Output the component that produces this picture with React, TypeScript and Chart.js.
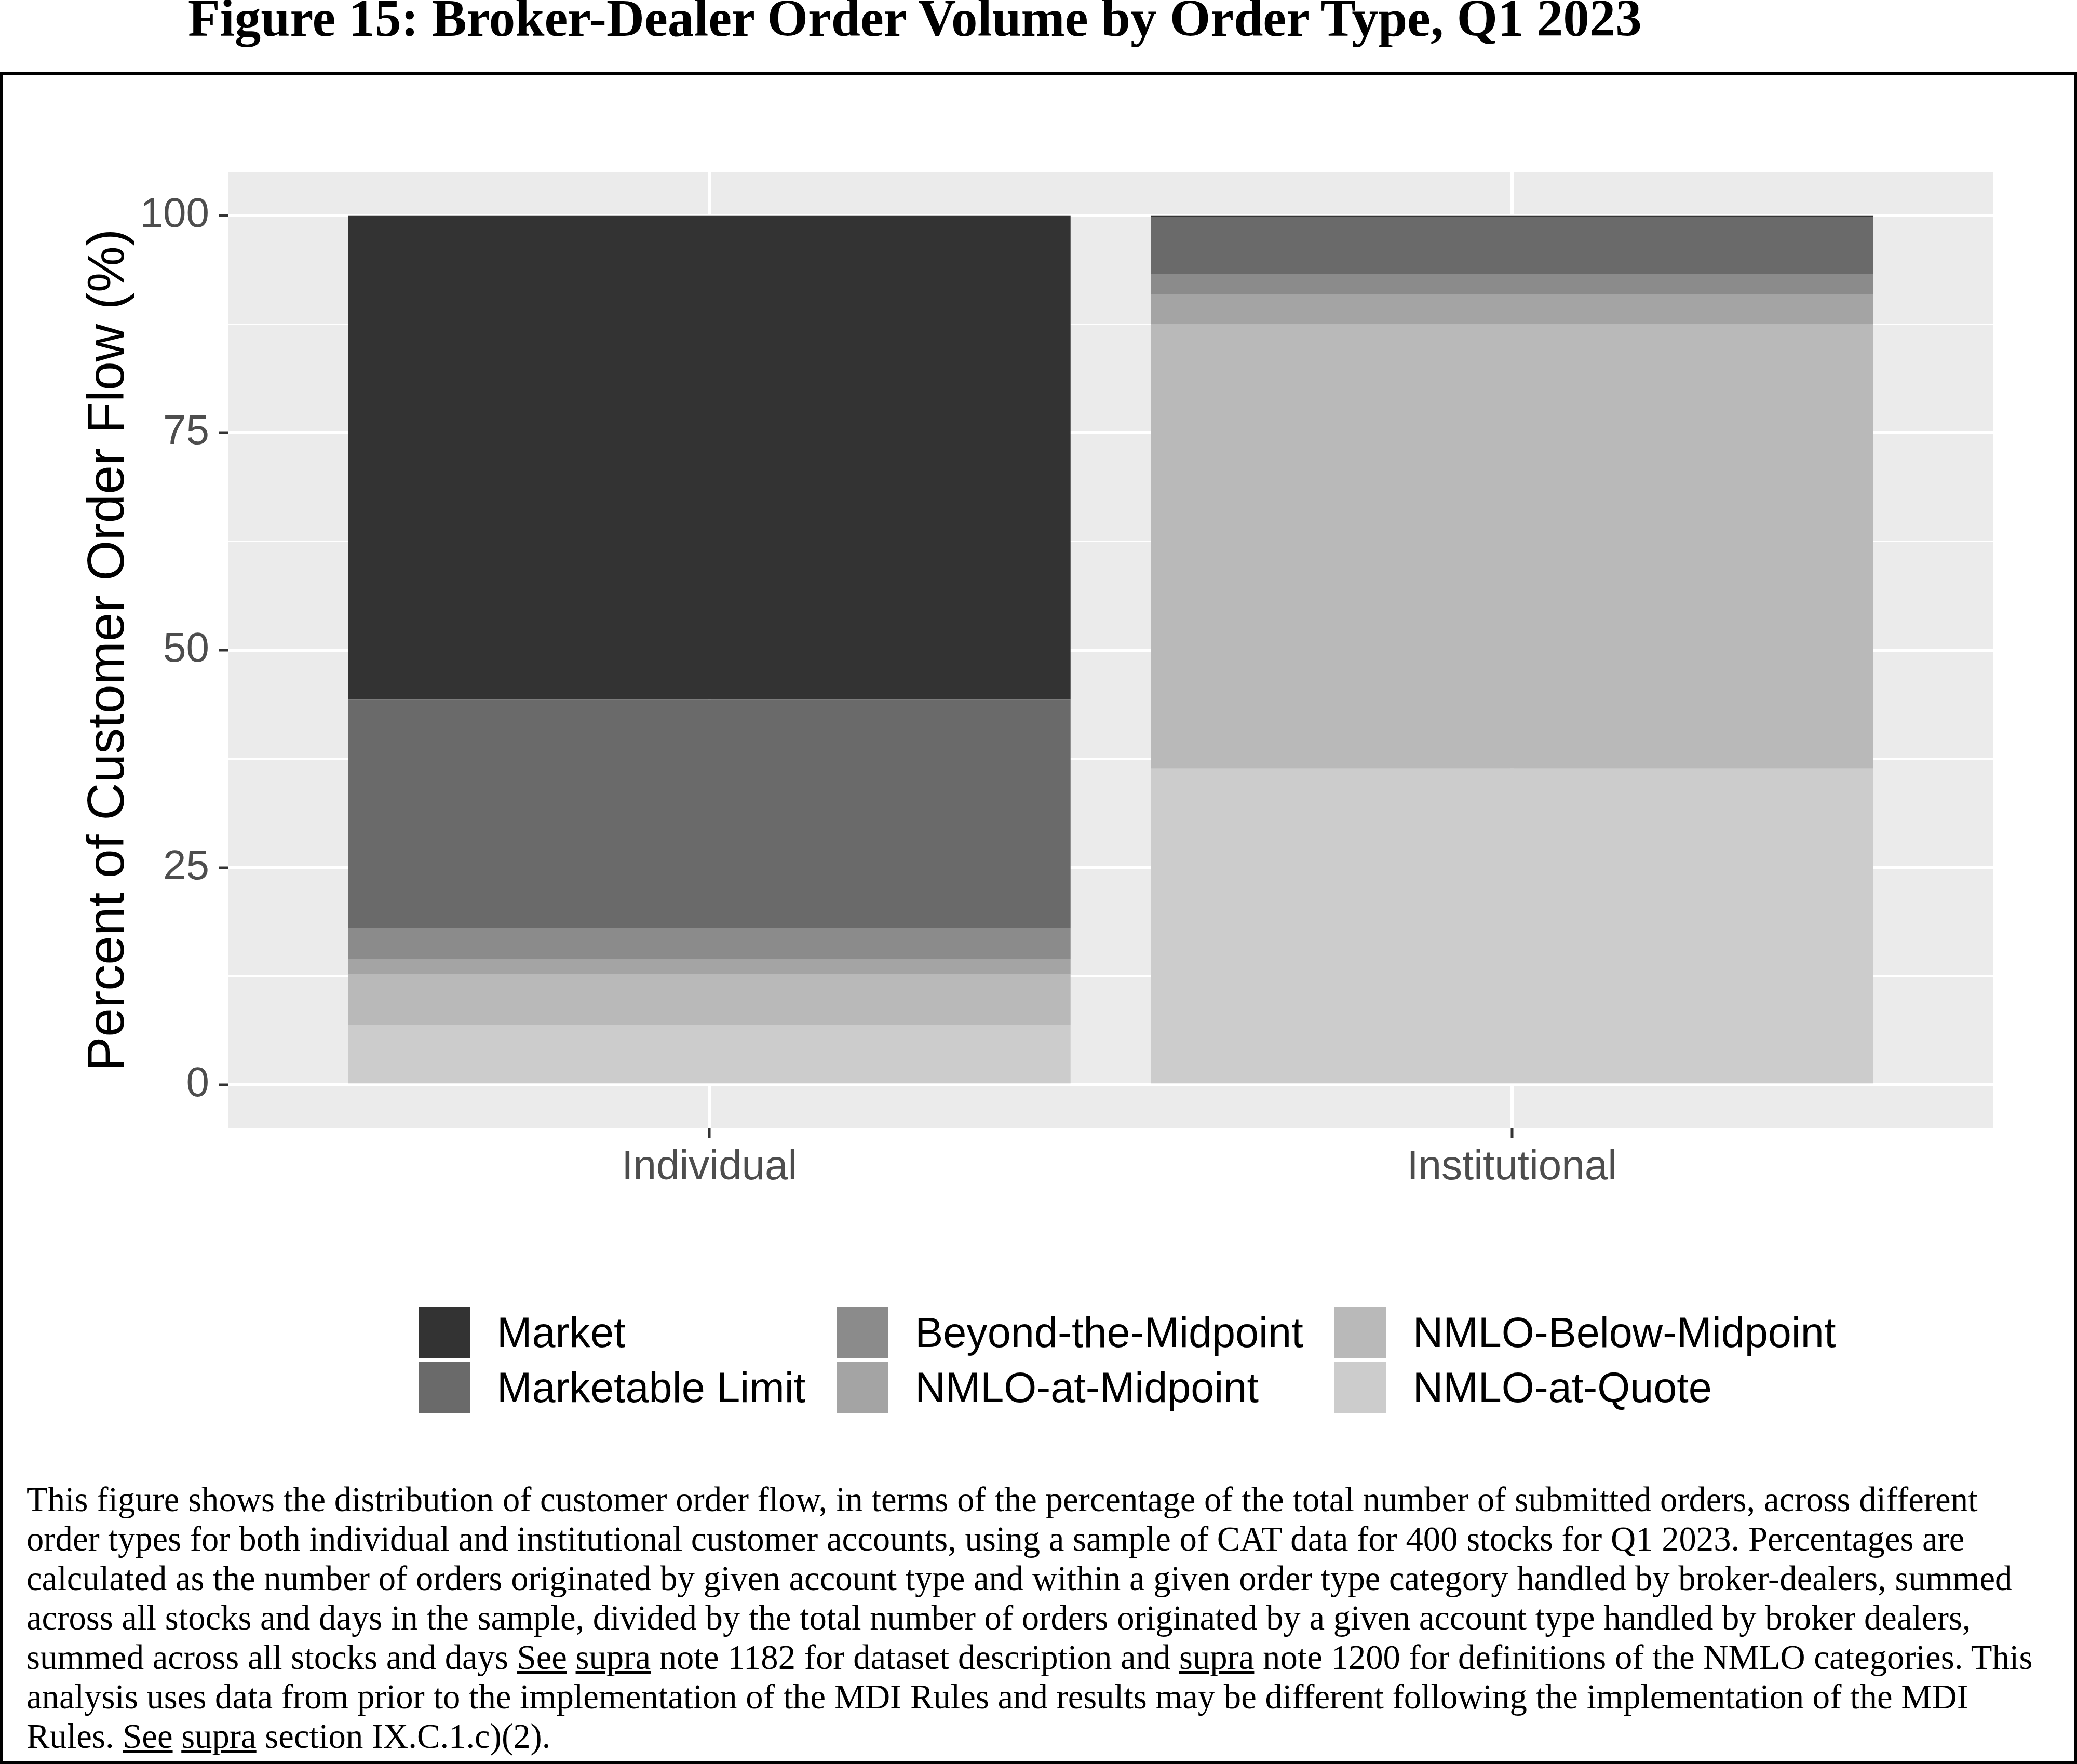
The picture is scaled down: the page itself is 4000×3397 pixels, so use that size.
import React, { useEffect, useRef } from 'react'
import { Chart, registerables } from 'chart.js'

Chart.register(...registerables)

// Data (percent of customer order flow)
const accountTypes = ['Individual', 'Institutional']
const orderTypes = [
  'Market',
  'Marketable Limit',
  'Beyond-the-Midpoint',
  'NMLO-at-Midpoint',
  'NMLO-Below-Midpoint',
  'NMLO-at-Quote'
]
const individualShare = [55.7, 26.3, 3.5, 1.7, 5.9, 6.9]
const institutionalShare = [0.2, 6.5, 2.4, 3.4, 51.1, 36.4]
const yTicks = [0, 12.5, 25, 37.5, 50, 62.5, 75, 87.5, 100]

// scale_fill_grey palette
const greyFills = ['#333333', '#6A6A6A', '#8B8B8B', '#A4A4A4', '#B9B9B9', '#CCCCCC']
const legendColumns = [[0, 1], [2, 3], [4, 5]]

const SANS = '"Liberation Sans", Arial, sans-serif'
const SERIF = '"Liberation Serif", "Times New Roman", serif'
const PANEL_BG = '#EBEBEB'

const isMajor = (v: number) => v % 25 === 0

const panelFill = {
  id: 'panelFill',
  beforeDraw(chart: Chart) {
    const { ctx, chartArea: a } = chart
    ctx.save()
    ctx.fillStyle = PANEL_BG
    ctx.fillRect(a.left, a.top, a.right - a.left, a.bottom - a.top)
    ctx.restore()
  }
}

export default function App() {
  const canvasRef = useRef<HTMLCanvasElement>(null)

  useEffect(() => {
    document.body.style.margin = '0'
    if (!canvasRef.current) return

    // first dataset sits at the bottom of the stack, so reverse legend order
    const datasets = orderTypes
      .map((name, i) => ({
        label: name,
        data: [
          { x: 1, y: individualShare[i] },
          { x: 2, y: institutionalShare[i] }
        ],
        backgroundColor: greyFills[i],
        borderWidth: 0,
        stack: 'flow',
        barPercentage: 0.9,
        categoryPercentage: 1
      }))
      .reverse()

    const chart = new Chart(canvasRef.current, {
      type: 'bar',
      data: { datasets },
      options: {
        animation: false,
        responsive: true,
        maintainAspectRatio: false,
        layout: { padding: { left: 0, top: 331, right: 161, bottom: 77 } },
        plugins: {
          legend: { display: false },
          tooltip: { enabled: false }
        },
        scales: {
          x: {
            type: 'linear',
            min: 0.4,
            max: 2.6,
            offset: false,
            afterBuildTicks: (axis: any) => {
              axis.ticks = accountTypes.map((_, i) => ({ value: i + 1 }))
            },
            afterFit: (axis: any) => {
              axis.height = 150
            },
            ticks: {
              autoSkip: false,
              maxRotation: 0,
              padding: 10,
              color: '#4D4D4D',
              font: { family: SANS, size: 80 },
              callback: (v: any) => accountTypes[Number(v) - 1] ?? ''
            },
            grid: {
              offset: false,
              color: '#FFFFFF',
              lineWidth: 6,
              tickColor: '#333333',
              tickLength: 18,
              tickWidth: 5
            },
            border: { display: false }
          },
          y: {
            stacked: true,
            min: -5,
            max: 105,
            afterBuildTicks: (axis: any) => {
              axis.ticks = yTicks.map(value => ({ value }))
            },
            afterFit: (axis: any) => {
              axis.width = 439
            },
            ticks: {
              autoSkip: false,
              padding: 18,
              color: '#4D4D4D',
              font: { family: SANS, size: 80 },
              callback: (v: any) => (isMajor(Number(v)) ? String(v) : '')
            },
            grid: {
              color: '#FFFFFF',
              lineWidth: (c: any) => (c.tick && isMajor(c.tick.value) ? 6 : 3),
              tickColor: (c: any) =>
                c.tick && isMajor(c.tick.value) ? '#333333' : 'rgba(0,0,0,0)',
              tickLength: 18,
              tickWidth: 5
            },
            border: { display: false },
            title: {
              display: true,
              text: 'Percent of Customer Order Flow (%)',
              color: '#000000',
              font: { family: SANS, size: 100 },
              padding: { top: 150, bottom: 0 }
            }
          }
        }
      },
      plugins: [panelFill]
    } as any)

    return () => chart.destroy()
  }, [])

  return (
    <div style={{ position: 'relative', width: 4000, height: 3397, overflow: 'hidden', background: '#FFFFFF' }}>
      <div
        style={{
          position: 'absolute',
          left: 0,
          top: 139,
          width: 4000,
          height: 3258,
          border: '5px solid #000000',
          boxSizing: 'border-box'
        }}
      />

      <div
        style={{
          position: 'absolute',
          left: 362,
          top: -15,
          fontFamily: SERIF,
          fontWeight: 'bold',
          fontSize: 101,
          lineHeight: '101px',
          whiteSpace: 'nowrap',
          color: '#000000'
        }}
      >
        Figure 15: Broker-Dealer Order Volume by Order Type, Q1 2023
      </div>

      <div style={{ position: 'absolute', left: 0, top: 0, width: 4000, height: 2400 }}>
        <canvas ref={canvasRef} />
      </div>

      {/* Legend, column-major like ggplot */}
      <div style={{ position: 'absolute', left: 806, top: 2516, display: 'flex', columnGap: 60 }}>
        {legendColumns.map((col, ci) => (
          <div key={ci} style={{ display: 'flex', flexDirection: 'column', rowGap: 6 }}>
            {col.map(i => (
              <div key={i} style={{ display: 'flex', alignItems: 'center', height: 100 }}>
                <div style={{ width: 100, height: 100, background: greyFills[i] }} />
                <span
                  style={{
                    marginLeft: 51,
                    fontFamily: SANS,
                    fontSize: 81,
                    color: '#000000',
                    whiteSpace: 'nowrap'
                  }}
                >
                  {orderTypes[i]}
                </span>
              </div>
            ))}
          </div>
        ))}
      </div>

      <div
        style={{
          position: 'absolute',
          left: 51,
          top: 2850,
          fontFamily: SERIF,
          fontSize: 66.7,
          lineHeight: '76px',
          whiteSpace: 'nowrap',
          color: '#000000'
        }}
      >
        This figure shows the distribution of customer order flow, in terms of the percentage of the total number of submitted orders, across different
        <br />
        order types for both individual and institutional customer accounts, using a sample of CAT data for 400 stocks for Q1 2023. Percentages are
        <br />
        calculated as the number of orders originated by given account type and within a given order type category handled by broker-dealers, summed
        <br />
        across all stocks and days in the sample, divided by the total number of orders originated by a given account type handled by broker dealers,
        <br />
        summed across all stocks and days <u>See</u> <u>supra</u> note 1182 for dataset description and <u>supra</u> note 1200 for definitions of the NMLO categories. This
        <br />
        analysis uses data from prior to the implementation of the MDI Rules and results may be different following the implementation of the MDI
        <br />
        Rules. <u>See</u> <u>supra</u> section IX.C.1.c)(2).
      </div>
    </div>
  )
}
